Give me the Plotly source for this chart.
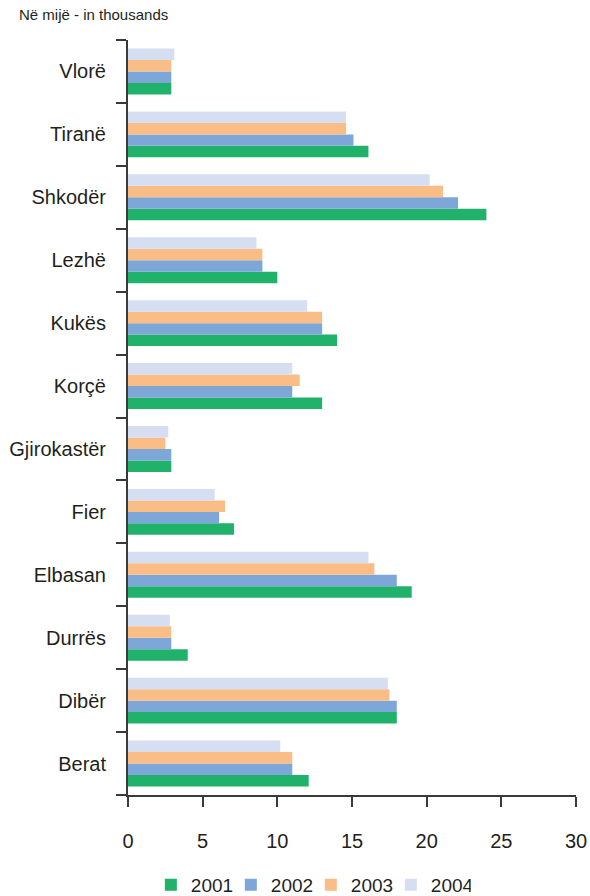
import plotly.graph_objects as go

categories = ["Berat", "Dibër", "Durrës", "Elbasan", "Fier", "Gjirokastër",
              "Korçë", "Kukës", "Lezhë", "Shkodër", "Tiranë", "Vlorë"]
years = ["2001", "2002", "2003", "2004"]
v2001 = [12.1, 18.0, 4.0, 19.0, 7.1, 2.9, 13.0, 14.0, 10.0, 24.0, 16.1, 2.9]
v2002 = [11.0, 18.0, 2.9, 18.0, 6.1, 2.9, 11.0, 13.0, 9.0, 22.1, 15.1, 2.9]
v2003 = [11.0, 17.5, 2.9, 16.5, 6.5, 2.5, 11.5, 13.0, 9.0, 21.1, 14.6, 2.9]
v2004 = [10.2, 17.4, 2.8, 16.1, 5.8, 2.7, 11.0, 12.0, 8.6, 20.2, 14.6, 3.1]
x_ticks = [0, 5, 10, 15, 20, 25, 30]

series = [v2001, v2002, v2003, v2004]
colors = ["#20B26B", "#7DA7D9", "#FABD86", "#D5DFF1"]

FONT = "Liberation Sans, Arial, sans-serif"
TXT = "#231F20"

fig = go.Figure()
for name, vals, col in zip(years, series, colors):
    fig.add_trace(go.Bar(
        y=categories, x=vals, name=name, orientation="h",
        marker=dict(color=col, line=dict(width=0)),
    ))

fig.update_layout(
    width=590, height=896,
    margin=dict(l=128, r=14, t=40, b=101, autoexpand=False),
    paper_bgcolor="white", plot_bgcolor="white",
    barmode="group", bargap=0.27, bargroupgap=0,
    font=dict(family=FONT, color=TXT, size=20),
    showlegend=True,
    legend=dict(orientation="h", x=0.051, xanchor="left", y=-0.094, yanchor="top",
                font=dict(size=19, family=FONT, color=TXT),
                itemwidth=30, tracegroupgap=0,
                entrywidth=35, entrywidthmode="pixels"),
    annotations=[dict(text="Në mijë - in thousands", xref="paper", yref="paper",
                      x=-0.248, y=1.034, xanchor="left", yanchor="middle",
                      showarrow=False, font=dict(size=15, family=FONT, color=TXT))],
)
fig.update_xaxes(
    range=[0, 30], tickvals=x_ticks, ticktext=[str(t) for t in x_ticks],
    showgrid=False, zeroline=False, automargin=False,
    showline=True, linecolor="#3a3a3a", linewidth=2,
    ticks="outside", ticklen=10, tickwidth=2, tickcolor="#3a3a3a",
    tickfont=dict(size=20, family=FONT, color=TXT),
    ticklabelstandoff=17,
)
fig.update_yaxes(
    type="category", categoryorder="array", categoryarray=categories,
    range=[-0.5, len(categories) - 0.5],
    showgrid=False, zeroline=False, automargin=False,
    showline=True, linecolor="#3a3a3a", linewidth=2,
    ticks="outside", tickson="boundaries", ticklen=10, tickwidth=2, tickcolor="#3a3a3a",
    tickfont=dict(size=20, family=FONT, color=TXT),
    ticklabelstandoff=16,
)

fig.write_html("out.html", config={"displayModeBar": False},
               post_script="document.body.style.margin='0';")
